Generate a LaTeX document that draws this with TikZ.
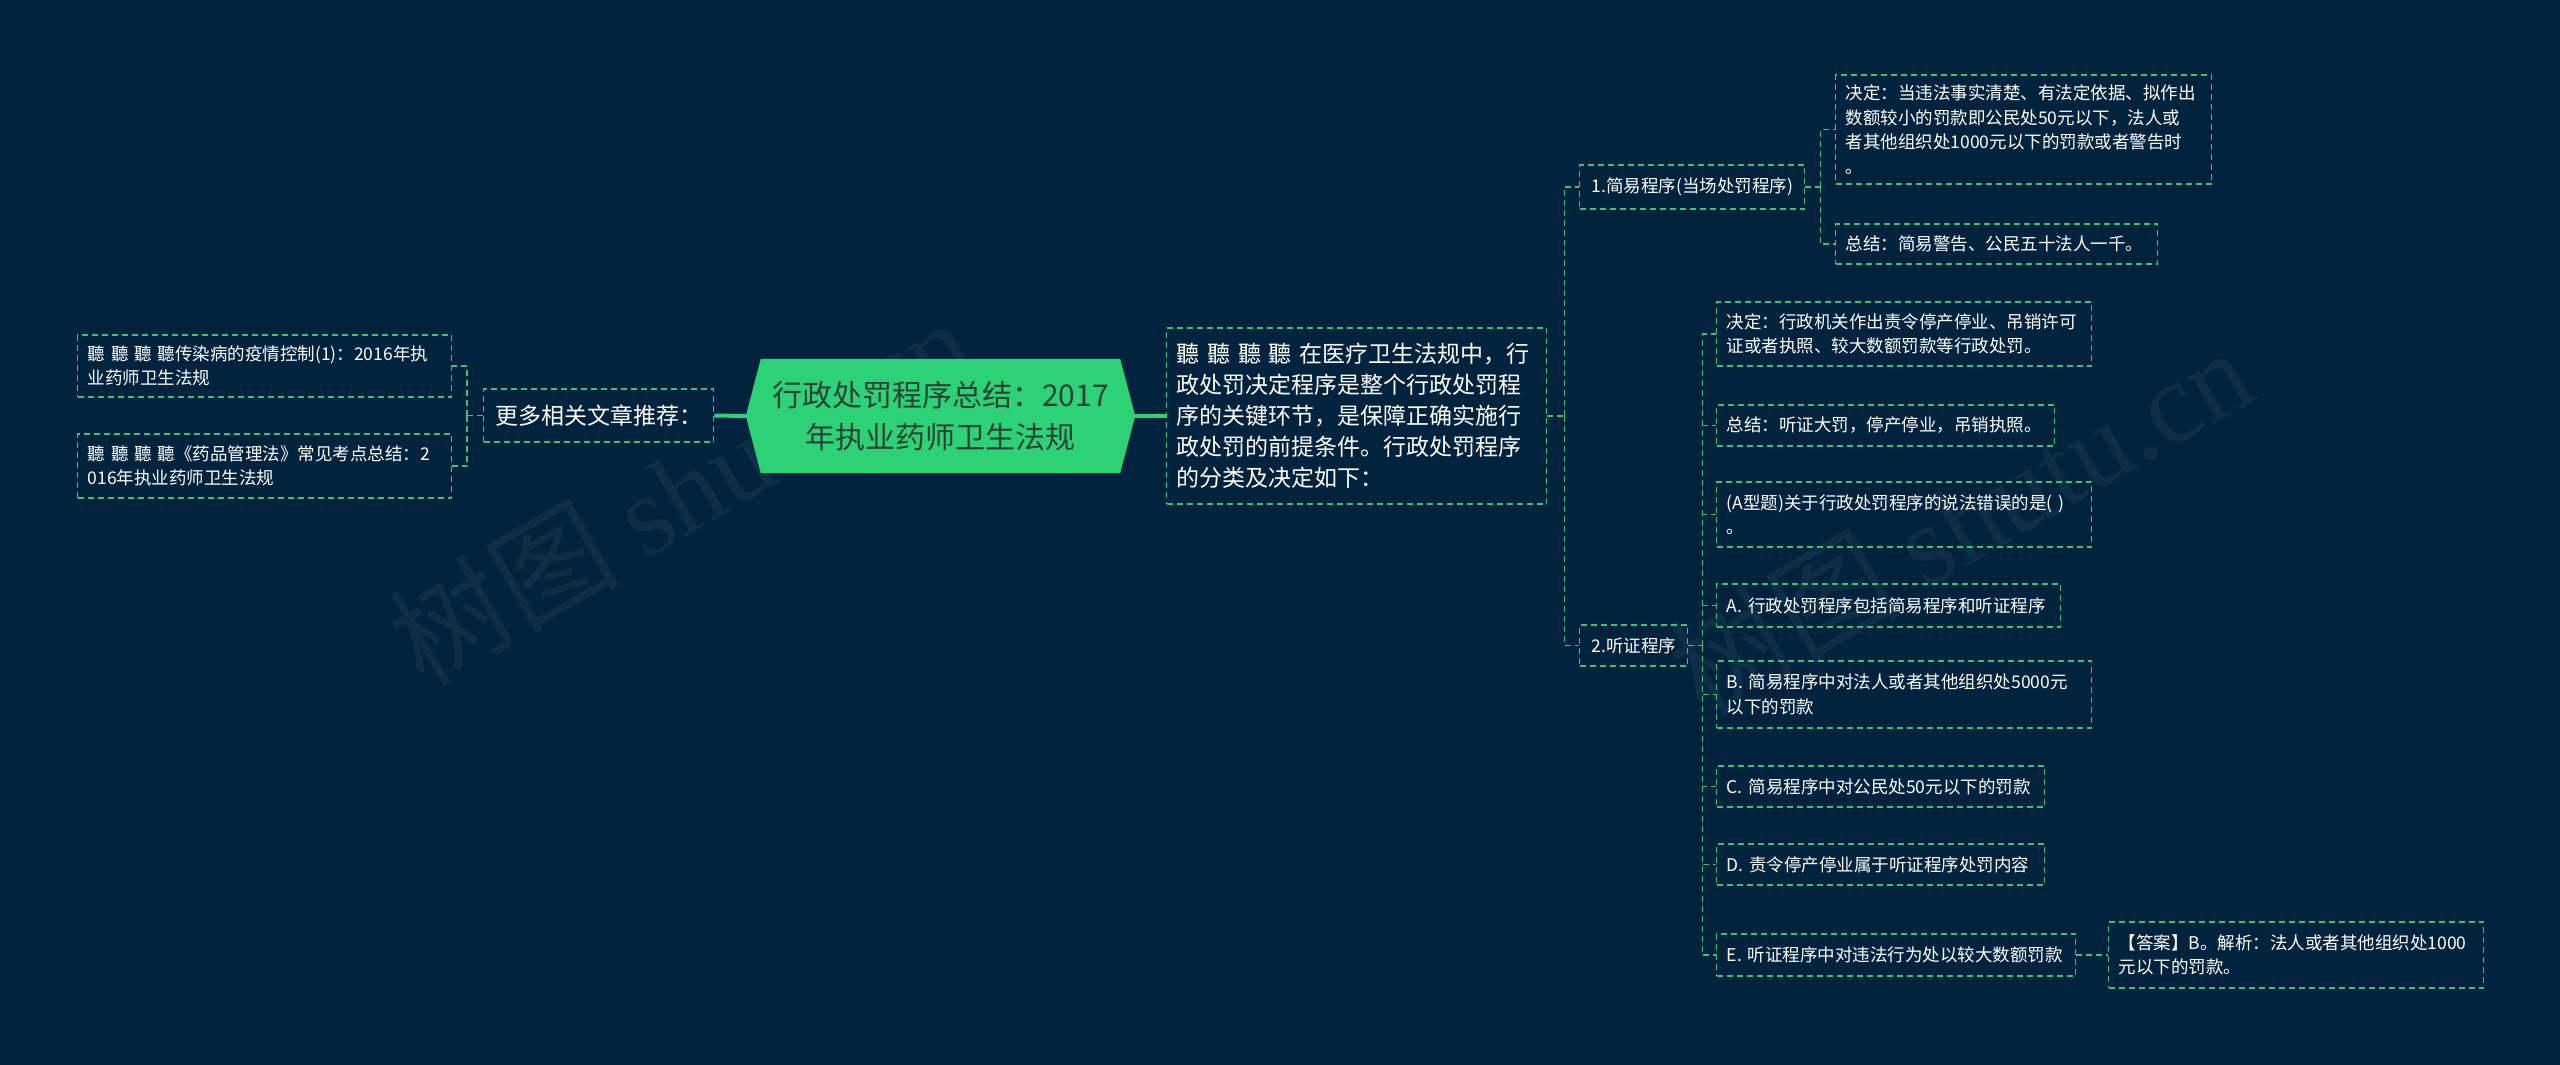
\documentclass[tikz,border=0pt]{standalone}
\usepackage{fontspec}
\setmainfont{Noto Sans CJK SC}
\newfontfamily\wmfont{Liberation Serif}
\newfontfamily\wmcjk{Noto Sans CJK SC}
\definecolor{bgc}{RGB}{2,35,62}
\definecolor{lnc}{RGB}{58,196,122}
\definecolor{hexc}{RGB}{46,210,118}
\definecolor{hextxt}{RGB}{40,66,54}
\tikzset{
  box/.style={draw=lnc, dash pattern=on 6pt off 4pt, line width=1.4pt, text=white,
    font=\fontsize{17.5}{24.5}\selectfont, align=left, inner xsep=10pt, inner ysep=4pt, anchor=west},
  conn/.style={draw=lnc, dash pattern=on 6pt off 4pt, line width=1.4pt},
  rootconn/.style={draw=hexc, line width=4pt},
  wm/.style={text=white, opacity=0.05, rotate=30, font=\fontsize{115}{115}\selectfont}
}
\begin{document}
\begin{tikzpicture}[x=1pt,y=-1pt]
\fill[bgc] (0,0) rectangle (2560,1065);
\useasboundingbox (0,0) rectangle (2560,1065);
% watermarks
\node[wm] (wm1) at (680,490) {\wmcjk 树图 \wmfont shutu.cn};
\node[wm] (wm2) at (1960,520) {\wmcjk 树图 \wmfont shutu.cn};
% root
\node[minimum width=389pt, minimum height=114pt, inner sep=0pt, text=hextxt, align=center,
  font=\fontsize{30}{42}\selectfont] (root) at (940.5,416) {};
\fill[hexc] (root.west) -- ([xshift=15pt]root.north west) -- ([xshift=-15pt]root.north east)
  -- (root.east) -- ([xshift=-15pt]root.south east) -- ([xshift=15pt]root.south west) -- cycle;
\node[text=hextxt, align=center, font=\fontsize{30}{42}\selectfont] (roottxt) at (root.center) {行政处罚程序总结：2017\\年执业药师卫生法规};
% left side
\node[box, font=\fontsize{23}{28}\selectfont, minimum width=230pt, minimum height=53pt, align=center] (more) at (483,415.5) {更多相关文章推荐：};
\node[box, text width=354pt, minimum height=62pt] (l1) at (77,366) {聽 聽 聽 聽传染病的疫情控制(1)：2016年执\\业药师卫生法规};
\node[box, text width=354pt, minimum height=64pt] (l2) at (77,466) {聽 聽 聽 聽《药品管理法》常见考点总结：2\\016年执业药师卫生法规};
% intro
\node[box, font=\fontsize{23}{31}\selectfont, text width=360pt, minimum height=176pt] (intro) at (1166,416) {聽 聽 聽 聽 在医疗卫生法规中，行\\政处罚决定程序是整个行政处罚程\\序的关键环节，是保障正确实施行\\政处罚的前提条件。行政处罚程序\\的分类及决定如下：};
% level 2
\node[box, minimum width=225pt, minimum height=44pt] (p1) at (1579,187) {1.简易程序(当场处罚程序)};
\node[box, minimum width=108pt, minimum height=41pt] (p2) at (1579,645.5) {2.听证程序};
% children of p1
\node[box, text width=356pt, minimum height=109pt] (c11) at (1835,129.5) {决定：当违法事实清楚、有法定依据、拟作出\\数额较小的罚款即公民处50元以下，法人或\\者其他组织处1000元以下的罚款或者警告时\\。};
\node[box, text width=302pt, minimum height=40pt] (c12) at (1835,244) {总结：简易警告、公民五十法人一千。};
% children of p2
\node[box, text width=355pt, minimum height=64pt] (c21) at (1716,334) {决定：行政机关作出责令停产停业、吊销许可\\证或者执照、较大数额罚款等行政处罚。};
\node[box, text width=318pt, minimum height=41pt] (c22) at (1716,425.5) {总结：听证大罚，停产停业，吊销执照。};
\node[box, text width=355pt, minimum height=65pt] (c23) at (1716,514.5) {(A型题)关于行政处罚程序的说法错误的是( )\\。};
\node[box, text width=324pt, minimum height=43pt] (c24) at (1716,605.5) {A. 行政处罚程序包括简易程序和听证程序};
\node[box, text width=355pt, minimum height=67pt] (c25) at (1716,694.5) {B. 简易程序中对法人或者其他组织处5000元\\以下的罚款};
\node[box, text width=308pt, minimum height=41pt] (c26) at (1716,786.5) {C. 简易程序中对公民处50元以下的罚款};
\node[box, text width=308pt, minimum height=41pt] (c27) at (1716,864.5) {D. 责令停产停业属于听证程序处罚内容};
\node[box, text width=339pt, minimum height=42pt] (c28) at (1716,955) {E. 听证程序中对违法行为处以较大数额罚款};
\node[box, text width=355pt, minimum height=66pt] (ans) at (2108,955) {【答案】B。解析：法人或者其他组织处1000\\元以下的罚款。};
% root connectors
\draw[rootconn] (root.west) -- (more.east);
\draw[rootconn] (root.east) -- (intro.west);
% left connectors
\draw[conn] (more.west) -- ++(-16pt,0) coordinate (sl);
\draw[conn] (sl) |- (l1.east);
\draw[conn] (sl) |- (l2.east);
% intro connectors
\draw[conn] (intro.east) -- ++(17pt,0) coordinate (s0);
\draw[conn] (s0) |- (p1.west);
\draw[conn] (s0) |- (p2.west);
% p1 connectors
\draw[conn] (p1.east) -- ++(15pt,0) coordinate (s1);
\draw[conn] (s1) |- (c11.west);
\draw[conn] (s1) |- (c12.west);
% p2 connectors
\draw[conn] (p2.east) -- ++(14pt,0) coordinate (s2);
\foreach \c in {c21,c22,c23,c24,c25,c26,c27,c28} { \draw[conn] (s2) |- (\c.west); }
% answer
\draw[conn] (c28.east) -- (ans.west);
\end{tikzpicture}
\end{document}
